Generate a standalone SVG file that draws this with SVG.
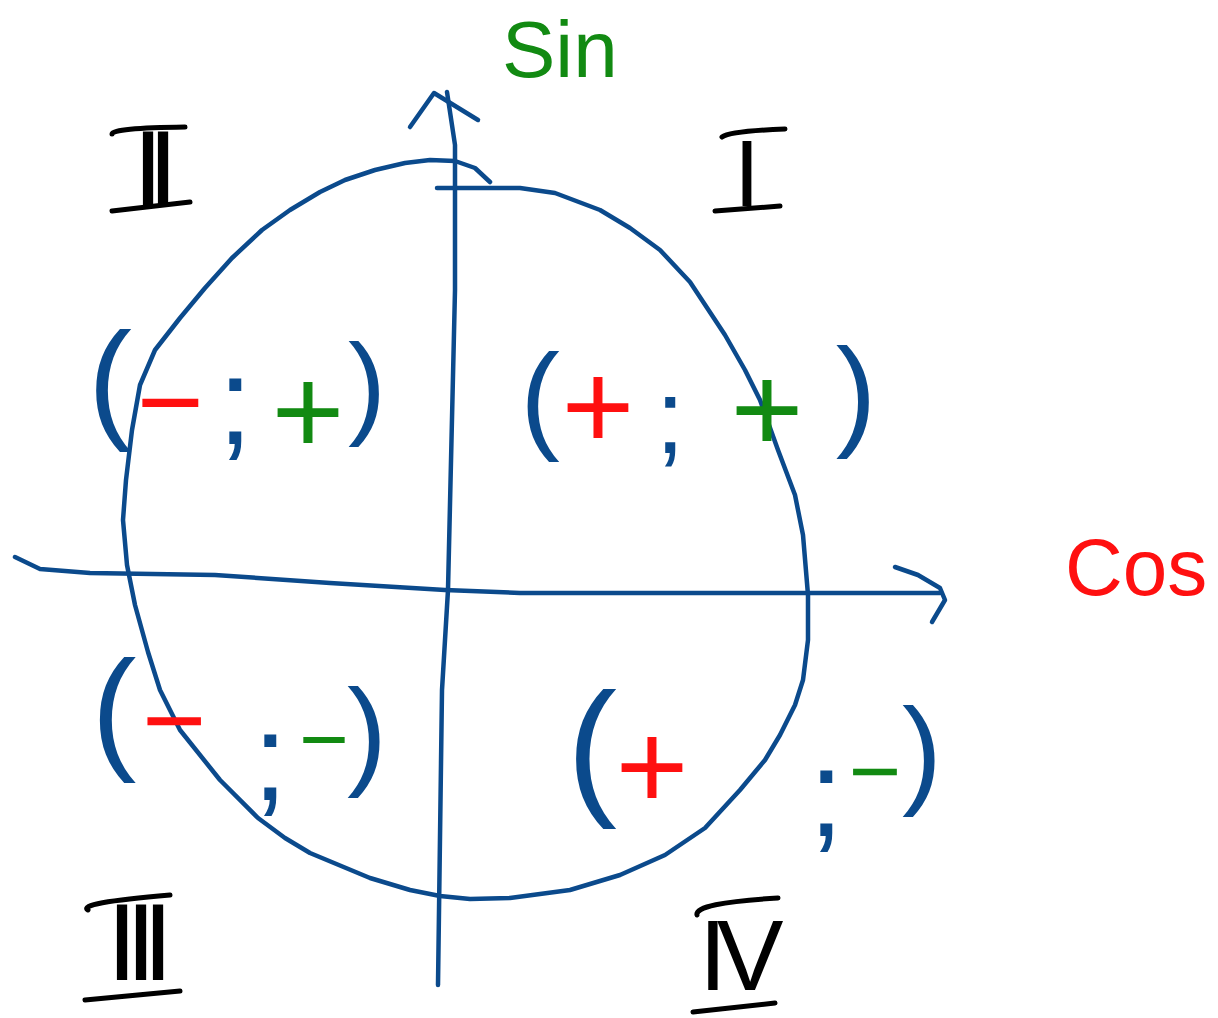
<svg xmlns="http://www.w3.org/2000/svg" width="1218" height="1018" viewBox="0 0 1218 1018">
<style>
.ink{fill:none;stroke:#0b4a8c;stroke-width:4.5;stroke-linecap:round;stroke-linejoin:round}
.bar{fill:none;stroke:#000;stroke-width:5;stroke-linecap:round}
.rn{font-family:"Liberation Sans",Arial,sans-serif;fill:#000;text-anchor:middle}
.br{font-family:"Liberation Sans",Arial,sans-serif;fill:#0b4a8c;text-anchor:middle}
.red{font-family:"Liberation Sans",Arial,sans-serif;fill:#ff1010;text-anchor:middle}
.grn{font-family:"Liberation Sans",Arial,sans-serif;fill:#128a12;text-anchor:middle}
</style>
<rect width="1218" height="1018" fill="#fff"/>
<g id="connectors">
<polyline id="circle" class="ink" points="437,188 520,188 555,193 600,210 630,228 660,250 690,282 725,335 745,370 760,400 778,450 795,495 803,535 808,595 808,640 803,680 795,705 780,735 765,760 740,790 705,828 665,855 620,875 570,890 510,898 470,899 440,896 410,890 370,878 310,853 285,838 258,818 220,780 180,730 160,690 148,652 135,605 127,565 123,520 126,480 132,430 140,385 155,350 180,318 205,288 232,258 262,230 290,210 320,192 345,180 375,170 405,163 430,160 455,161 475,168 490,182"/>
<polyline id="y-axis" class="ink" points="447,92 455,145 455,290 448,590 442,690 438,985"/>
<polyline id="y-arrow" class="ink" points="410,127 434,93 478,120"/>
<polyline id="x-axis" class="ink" points="15,557 40,569 90,573 215,575 330,583 445,590 520,593 940,593"/>
<polyline id="x-arrow" class="ink" points="895,567 918,575 940,588 945,600 932,622"/>
</g>
<g id="label-sin"><text x="502" y="77" class="grn" style="text-anchor:start" font-size="80">Sin</text></g>
<g id="label-cos"><text x="1065" y="595" class="red" style="text-anchor:start" font-size="80">Cos</text></g>
<g id="quadrant-I">
<text x="747" y="206" class="rn" font-size="95">I</text>
<path class="bar" d="M722,137 Q730,131 785,129 M715,211 L780,206"/>
</g>
<g id="quadrant-II">
<text x="148 163" y="207" class="rn" font-size="110">II</text>
<path class="bar" d="M112,134 Q112,128 185,127 M112,211 L190,202"/>
</g>
<g id="quadrant-III">
<text x="122 141 158" y="980" class="rn" font-size="110">III</text>
<path class="bar" d="M88,910 Q76,903 170,895 M85,1000 L180,991"/>
</g>
<g id="quadrant-IV">
<text x="713 750" y="990" class="rn" font-size="100">IV</text>
<path class="bar" d="M697,915 Q694,903 778,898 M693,1012 L775,1003"/>
</g>
<g id="signs-I">
<text x="540" y="437" class="br" font-size="119">(</text>
<text x="598" y="449" class="red" font-size="125">+</text>
<text x="670" y="453" class="br" font-size="105">;</text>
<text x="767" y="452" class="grn" font-size="125">+</text>
<text x="856" y="434" class="br" font-size="122">)</text>
</g>
<g id="signs-II">
<text x="110" y="425" class="br" font-size="132">(</text>
<text x="170" y="441" class="red" font-size="115">−</text>
<text x="235" y="444" class="br" font-size="125">;</text>
<text x="308" y="454" class="grn" font-size="125">+</text>
<text x="367" y="423" class="br" font-size="114">)</text>
</g>
<g id="signs-III">
<text x="114" y="755" class="br" font-size="135">(</text>
<text x="174" y="758" class="red" font-size="110">−</text>
<text x="270" y="800" class="br" font-size="125">;</text>
<text x="324" y="768" class="grn" font-size="85">−</text>
<text x="367" y="773" class="br" font-size="120">)</text>
</g>
<g id="signs-IV">
<text x="592" y="798" class="br" font-size="151">(</text>
<text x="652" y="809" class="red" font-size="125">+</text>
<text x="826" y="836" class="br" font-size="125">;</text>
<text x="875" y="802" class="grn" font-size="90">−</text>
<text x="922" y="792" class="br" font-size="120">)</text>
</g>
</svg>
